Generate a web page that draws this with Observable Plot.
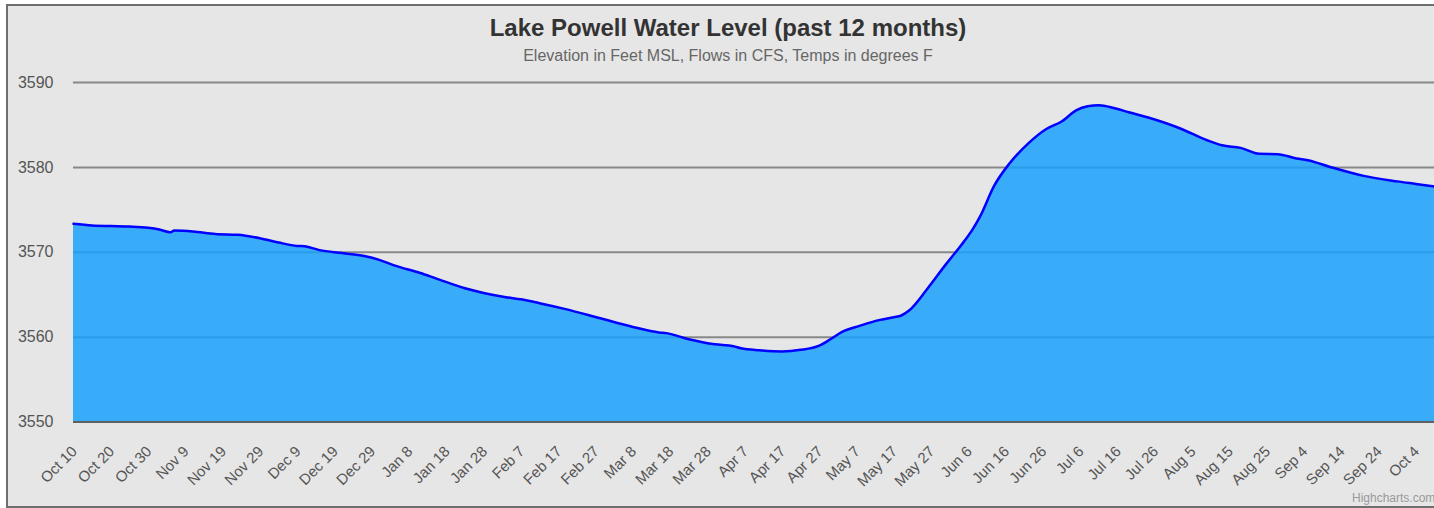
<!DOCTYPE html>
<html>
<head>
<meta charset="utf-8">
<script src="https://cdn.jsdelivr.net/npm/d3@7"></script>
<script src="https://cdn.jsdelivr.net/npm/@observablehq/plot@0.6"></script>
<style>
  html, body { margin: 0; padding: 0; background: #ffffff; overflow: hidden; width: 1434px; height: 508px; }
  #frame { position: absolute; left: 6px; top: 4px; width: 1460px; height: 500px; border: 2px solid #6e6e6e; background: #e6e6e6; }
  #title { position: absolute; left: 0; width: 1456px; top: 14px; line-height: 24px; text-align: center;
           font: bold 24px "Liberation Sans", Arial, sans-serif; color: #333333; }
  #subtitle { position: absolute; left: 0; width: 1456px; top: 47px; line-height: 16px; text-align: center;
              font: 16px "Liberation Sans", Arial, sans-serif; color: #666666; }
  #credit { position: absolute; left: 1352px; top: 491px; line-height: 12px; white-space: nowrap;
            font: 12px "Liberation Sans", Arial, sans-serif; color: #999999; }
  #chart { position: absolute; left: 0; top: 0; }
</style>
</head>
<body>
<div id="frame"></div>
<div id="title">Lake Powell Water Level (past 12 months)</div>
<div id="subtitle">Elevation in Feet MSL, Flows in CFS, Temps in degrees F</div>
<div id="chart"></div>
<div id="credit">Highcharts.com</div>
<script>
const dates = [
  "2023-10-10","2023-10-15","2023-10-20","2023-10-25","2023-10-30","2023-11-02","2023-11-05","2023-11-06",
  "2023-11-11","2023-11-17","2023-11-23","2023-11-29","2023-12-04","2023-12-09","2023-12-11","2023-12-15",
  "2023-12-21","2023-12-27","2023-12-31","2024-01-04","2024-01-11","2024-01-15","2024-01-23","2024-01-28",
  "2024-02-03","2024-02-07","2024-02-12","2024-02-19","2024-02-28","2024-03-08","2024-03-15","2024-03-17",
  "2024-03-23","2024-03-30","2024-04-04","2024-04-06","2024-04-11","2024-04-17","2024-04-22","2024-04-27",
  "2024-04-30","2024-05-03","2024-05-08","2024-05-13","2024-05-17","2024-05-19","2024-05-21","2024-05-26",
  "2024-05-31","2024-06-04","2024-06-07","2024-06-09","2024-06-13","2024-06-17","2024-06-22","2024-06-27",
  "2024-07-01","2024-07-05","2024-07-08","2024-07-11","2024-07-15","2024-07-19","2024-07-24","2024-08-02",
  "2024-08-09","2024-08-13","2024-08-18","2024-08-23","2024-08-28","2024-09-02","2024-09-05","2024-09-11",
  "2024-09-20","2024-09-29","2024-10-04","2024-10-09"
];
// Water level elevation (feet MSL)
const levels = [
  3573.35,3573.15,3573.08,3573.02,3572.88,3572.68,3572.35,3572.55,
  3572.45,3572.15,3572.05,3571.65,3571.15,3570.75,3570.70,3570.25,
  3569.90,3569.55,3569.10,3568.45,3567.55,3566.95,3565.75,3565.20,
  3564.70,3564.45,3564.00,3563.30,3562.25,3561.20,3560.55,3560.47,
  3559.75,3559.15,3558.92,3558.68,3558.45,3558.32,3558.50,3559.00,
  3559.75,3560.60,3561.35,3562.00,3562.35,3562.55,3563.10,3565.70,
  3568.60,3570.80,3572.60,3574.10,3577.90,3580.45,3582.80,3584.55,
  3585.40,3586.75,3587.20,3587.32,3587.00,3586.50,3585.90,3584.55,
  3583.20,3582.60,3582.30,3581.60,3581.55,3581.05,3580.85,3580.05,
  3579.00,3578.35,3578.05,3577.75
];
// Axis ticks
const tickDates = [
  "2023-10-10","2023-10-20","2023-10-30","2023-11-09","2023-11-19","2023-11-29","2023-12-09","2023-12-19",
  "2023-12-29","2024-01-08","2024-01-18","2024-01-28","2024-02-07","2024-02-17","2024-02-27","2024-03-08",
  "2024-03-18","2024-03-28","2024-04-07","2024-04-17","2024-04-27","2024-05-07","2024-05-17","2024-05-27",
  "2024-06-06","2024-06-16","2024-06-26","2024-07-06","2024-07-16","2024-07-26","2024-08-05","2024-08-15",
  "2024-08-25","2024-09-04","2024-09-14","2024-09-24","2024-10-04"
];
const tickLabels = [
  "Oct 10","Oct 20","Oct 30","Nov 9","Nov 19","Nov 29","Dec 9","Dec 19",
  "Dec 29","Jan 8","Jan 18","Jan 28","Feb 7","Feb 17","Feb 27","Mar 8",
  "Mar 18","Mar 28","Apr 7","Apr 17","Apr 27","May 7","May 17","May 27",
  "Jun 6","Jun 16","Jun 26","Jul 6","Jul 16","Jul 26","Aug 5","Aug 15",
  "Aug 25","Sep 4","Sep 14","Sep 24","Oct 4"
];
const yTicks = [3550, 3560, 3570, 3580, 3590];
const xDomain = ["2023-10-10", "2024-10-09"];

const data = dates.map((d, i) => ({date: new Date(d), value: levels[i]}));
const ticks = tickDates.map((d, i) => ({date: new Date(d), label: tickLabels[i]}));

const chart = Plot.plot({
  width: 1434,
  height: 508,
  marginLeft: 73,
  marginRight: 0,
  marginTop: 82,
  marginBottom: 86.5,
  style: {background: "transparent", fontFamily: "'Liberation Sans', Arial, sans-serif", overflow: "visible"},
  x: {type: "utc", domain: xDomain.map(d => new Date(d)), axis: null},
  y: {domain: [yTicks[0], yTicks[yTicks.length - 1]]},
  marks: [
    Plot.ruleY(yTicks.slice(1), {stroke: "#888888", strokeWidth: 2}),
    Plot.areaY(data, {x: "date", y1: yTicks[0], y2: "value", fill: "rgb(25,161,251)", fillOpacity: 0.85, curve: "monotone-x"}),
    Plot.lineY(data, {x: "date", y: "value", stroke: "#0000ff", strokeWidth: 2.5, curve: "monotone-x"}),
    Plot.ruleY([yTicks[0]], {stroke: "#606060", strokeWidth: 2}),
    Plot.axisY({ticks: yTicks, tickSize: 0, tickPadding: 20, fontSize: 16, color: "#555555", label: null, tickFormat: d => String(d)}),
    Plot.text(ticks, {x: "date", y: () => yTicks[0], text: "label", rotate: -45, textAnchor: "end",
      lineAnchor: "middle", dx: 1, dy: 27, fontSize: 15, fill: "#555555"})
  ]
});
document.getElementById("chart").appendChild(chart);
</script>
</body>
</html>
